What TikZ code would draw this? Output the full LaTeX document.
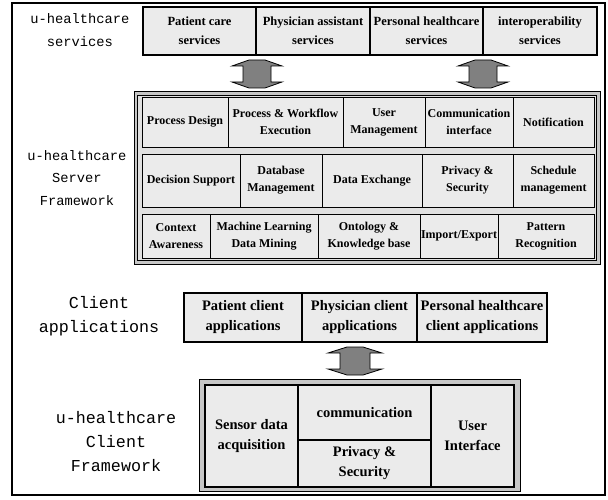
\documentclass[tikz,border=0pt]{standalone}
\usepackage{fontspec}
\setmainfont{Liberation Serif}
\newfontfamily\labelmono{Liberation Mono}
\tikzset{
  cellbox/.style={draw=black, line width=0.8pt, fill=black!8, inner sep=0pt, outer sep=0pt, align=center,
    font=\bfseries\fontsize{12}{17}\selectfont},
  svcbox/.style={cellbox, line width=1.1pt, font=\bfseries\fontsize{12.5}{19}\selectfont},
  clibox/.style={cellbox, line width=1.1pt, font=\bfseries\fontsize{14.5}{20}\selectfont},
  smalllabel/.style={align=center, inner sep=0pt, font=\labelmono\fontsize{13.75}{22.5}\selectfont},
  biglabel/.style={align=center, inner sep=0pt, font=\labelmono\fontsize{16.7}{24}\selectfont},
  blockarrow/.style={draw=black, line width=0.8pt, fill=black!50, line join=miter},
  frameline/.style={draw=black, line width=1.4pt},
  bandfill/.style={fill=black!22, draw=black, line width=1pt}
}
\newcommand\cellnode[7]{\node[#7, minimum width={(#4)-(#2)}, minimum height={(#5)-(#3)}] (#1) at ({((#2)+(#4))/2},{((#3)+(#5))/2}) {#6};}
\newcommand\udarrow[6]{% cx, ytop, ybot, halfwing, halfbody, headh
  \draw[blockarrow] ({#1-#4},{#2+#6}) -- ({#1-8},{#2}) -- ({#1+8},{#2}) -- ({#1+#4},{#2+#6}) -- ({#1+#5},{#2+#6})
    -- ({#1+#5},{#3-#6}) -- ({#1+#4},{#3-#6}) -- ({#1+8},{#3}) -- ({#1-8},{#3}) -- ({#1-#4},{#3-#6})
    -- ({#1-#5},{#3-#6}) -- ({#1-#5},{#2+#6}) -- cycle;}
\begin{document}
\begin{tikzpicture}[x=1pt,y=-1pt]
\useasboundingbox (0,0) rectangle (608,500);
\fill[white] (0,0) rectangle (608,500);
% outer frame
\draw[frameline] (12,3) rectangle (605,495);

% labels
\node[smalllabel] (lsvc) at (80,30) {u-healthcare\\services};
\node[smalllabel] (lsrv) at (77,178) {u-healthcare\\Server\\Framework};
\node[biglabel] (lcapp) at (99,316) {Client\\applications};
\node[biglabel] (lcfw) at (116,442) {u-healthcare\\Client\\Framework};

% services
\cellnode{s1}{143}{7}{256}{55}{Patient care\\services}{svcbox}
\cellnode{s2}{256}{7}{370}{55}{Physician assistant\\services}{svcbox}
\cellnode{s3}{370}{7}{483}{55}{Personal healthcare\\services}{svcbox}
\cellnode{s4}{483}{7}{597}{55}{interoperability\\services}{svcbox}

% arrows services <-> server
\udarrow{257}{60}{88}{25}{14}{6}
\udarrow{483}{60}{88}{25}{14}{6}

% server framework box
\draw[bandfill] (134,92) rectangle (600,264);
\draw[fill=black!12, draw=black, line width=0.6pt] (137.5,95.5) rectangle (596.5,260.5);

% row 1
\cellnode{r11}{142}{97}{228}{147}{Process Design}{cellbox}
\cellnode{r12}{228}{97}{343}{147}{Process \& Workflow\\Execution}{cellbox}
\cellnode{r13}{343}{97}{425}{147}{User\\Management}{cellbox}
\cellnode{r14}{425}{97}{513}{147}{Communication\\interface}{cellbox}
\cellnode{r15}{513}{97}{594}{147}{Notification}{cellbox}
% row 2
\cellnode{r21}{142}{154}{240}{207}{Decision Support}{cellbox}
\cellnode{r22}{240}{154}{322}{207}{Database\\Management}{cellbox}
\cellnode{r23}{322}{154}{422}{207}{Data Exchange}{cellbox}
\cellnode{r24}{422}{154}{513}{207}{Privacy \&\\Security}{cellbox}
\cellnode{r25}{513}{154}{594}{207}{Schedule\\management}{cellbox}
% row 3
\cellnode{r31}{142}{214}{210}{258}{Context\\Awareness}{cellbox}
\cellnode{r32}{210}{214}{318}{258}{Machine Learning\\Data Mining}{cellbox}
\cellnode{r33}{318}{214}{420}{258}{Ontology \&\\Knowledge base}{cellbox}
\cellnode{r34}{420}{214}{498}{258}{Import/Export}{cellbox}
\cellnode{r35}{498}{214}{594}{258}{Pattern\\Recognition}{cellbox}

% client applications
\cellnode{c1}{184}{293}{302}{342}{Patient client\\applications}{clibox}
\cellnode{c2}{302}{293}{417}{342}{Physician client\\applications}{clibox}
\cellnode{c3}{417}{293}{547}{342}{Personal healthcare\\client applications}{clibox}

% arrow client apps <-> client framework
\udarrow{355}{347}{375}{27}{15}{6}

% client framework
\draw[bandfill] (199,379) rectangle (520,491);
\cellnode{f1}{205}{385}{298}{487}{Sensor data\\acquisition}{clibox}
\cellnode{f2}{298}{385}{431}{440}{communication}{clibox}
\cellnode{f3}{298}{440}{431}{487}{Privacy \&\\Security}{clibox}
\cellnode{f4}{431}{385}{514}{487}{User\\Interface}{clibox}
\end{tikzpicture}
\end{document}
